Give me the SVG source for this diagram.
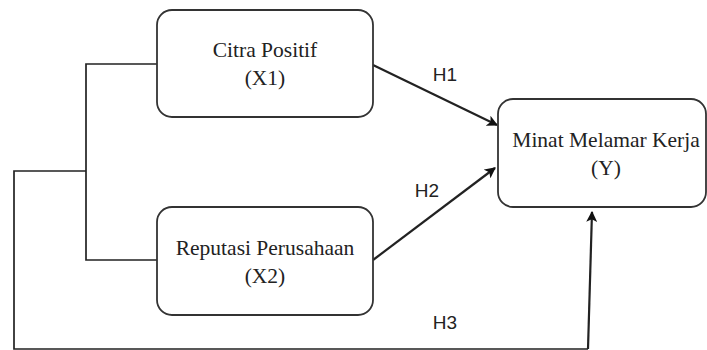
<svg xmlns="http://www.w3.org/2000/svg" width="707" height="350" viewBox="0 0 707 350">
<style>
.box{fill:#fff;stroke:#333;stroke-width:1.8}
.t{font-family:"Liberation Serif","Times New Roman",serif;font-size:21.5px;fill:#222;text-anchor:middle}
.h{font-family:"Liberation Sans",Arial,sans-serif;font-size:19px;fill:#222;text-anchor:middle}
.c{fill:none;stroke:#222;stroke-width:1.7}
.a{stroke-width:2.2}
</style>
<defs>
<marker id="ar" viewBox="0 0 10 10" refX="9" refY="5" markerWidth="11" markerHeight="11" markerUnits="userSpaceOnUse" orient="auto">
<path d="M0,0 L10,5 L0,10 L2.5,5 Z" fill="#111"/>
</marker>
</defs>
<rect width="707" height="350" fill="#fff"/>
<g id="connectors">
<polyline class="c" points="157,64 86,64 86,260 157,260"/>
<polyline class="c" points="86,171 14,171 14,349 588,349"/>
<line class="c a" x1="373" y1="65" x2="497" y2="125" marker-end="url(#ar)"/>
<line class="c a" x1="373" y1="260" x2="495" y2="168" marker-end="url(#ar)"/>
<line class="c a" x1="588" y1="349" x2="592" y2="212" marker-end="url(#ar)"/>
<text class="h" x="445" y="81">H1</text>
<text class="h" x="427" y="197">H2</text>
<text class="h" x="445" y="329">H3</text>
</g>
<g id="x1">
<rect class="box" x="157" y="10" width="216" height="107" rx="15"/>
<text class="t" x="265" y="57">Citra Positif</text>
<text class="t" x="265" y="85">(X1)</text>
</g>
<g id="x2">
<rect class="box" x="157" y="207" width="216" height="108" rx="15"/>
<text class="t" x="265" y="255">Reputasi Perusahaan</text>
<text class="t" x="265" y="283">(X2)</text>
</g>
<g id="y">
<rect class="box" x="498" y="99" width="208" height="108" rx="15"/>
<text class="t" x="606" y="147">Minat Melamar Kerja</text>
<text class="t" x="606" y="175">(Y)</text>
</g>
</svg>
